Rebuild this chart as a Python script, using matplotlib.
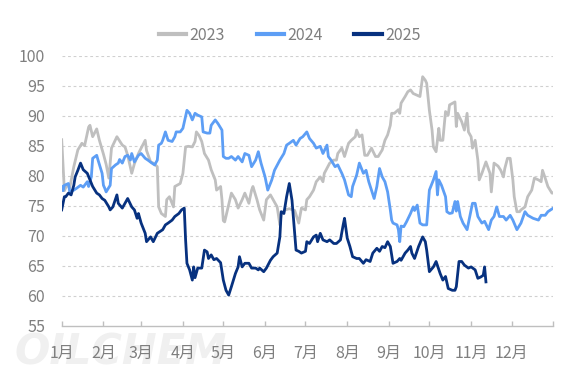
import matplotlib
matplotlib.use("Agg")
import matplotlib.pyplot as plt

# day-of-year (0 = Jan 1) and values
days_2023 = [0, 2, 4, 6, 9, 12, 15, 17, 20, 21, 23, 26, 28, 31, 33, 35, 37, 41, 45, 47,
             49, 52, 54, 57, 59, 62, 63, 66, 68, 71, 72, 74, 77, 78, 80, 83, 84, 88, 90, 92,
             94, 97, 99, 100, 102, 104, 106, 109, 111, 114, 115, 118, 119, 120, 121, 126, 129, 131, 134, 136,
             139, 141, 142, 145, 147, 150, 152, 155, 157, 160, 162, 163, 166, 169, 173, 176, 178, 181, 182, 184,
             187, 189, 192, 194, 195, 199, 202, 204, 205, 208, 210, 213, 215, 218, 219, 221, 223, 225, 227, 230,
             233, 235, 238, 240, 242, 244, 245, 247, 250, 251, 252, 255, 257, 259, 261, 264, 266, 268, 270, 271,
             273, 275, 276, 278, 280, 281, 283, 285, 287, 288, 292, 293, 294, 297, 299, 301, 302, 304, 305, 307,
             309, 310, 312, 315, 318, 319, 321, 324, 326, 328, 329, 331, 333, 335, 336, 338, 340, 341, 344, 346,
             349, 351, 354, 356, 357, 359, 361, 364, 365]
vals_2023 = [86.0, 77.5, 78.5, 78.0, 81.5, 84.3, 85.4, 85.0, 88.1, 88.4, 86.5, 87.8, 85.9, 83.6, 81.9, 79.6, 84.6, 86.5, 85.1, 84.8,
             83.4, 80.4, 82.0, 83.7, 84.6, 85.9, 84.2, 82.3, 82.1, 81.5, 74.8, 73.7, 73.2, 76.0, 76.5, 74.8, 78.2, 78.7, 80.4, 84.8,
             84.9, 84.8, 85.7, 87.3, 86.7, 85.7, 83.7, 82.6, 81.0, 79.3, 77.6, 78.2, 76.0, 72.5, 72.3, 77.1, 76.0, 74.6, 76.0, 77.1,
             75.4, 77.6, 78.2, 76.0, 74.3, 72.6, 76.0, 76.8, 76.0, 74.8, 71.8, 73.7, 74.3, 74.5, 74.2, 72.1, 74.6, 74.3, 76.0, 76.5,
             77.6, 79.0, 79.8, 79.0, 80.4, 82.1, 82.6, 82.6, 83.7, 84.6, 83.2, 85.4, 85.9, 86.5, 87.6, 86.5, 86.8, 83.4, 83.4, 84.6,
             83.2, 83.2, 84.3, 85.9, 86.8, 88.4, 90.4, 90.4, 91.0, 90.4, 92.1, 93.2, 94.0, 94.3, 93.7, 93.4, 93.2, 96.5, 95.9, 95.4,
             90.9, 87.6, 84.8, 84.0, 87.9, 85.9, 85.9, 90.7, 90.1, 91.8, 92.3, 88.2, 90.4, 89.0, 87.6, 90.4, 87.3, 86.5, 84.6, 85.9,
             82.6, 79.3, 80.4, 82.3, 80.4, 77.3, 82.1, 81.6, 80.9, 79.8, 81.2, 82.9, 82.9, 79.3, 76.5, 74.0, 74.0, 74.3, 74.8, 76.5,
             77.6, 79.6, 79.3, 79.0, 80.9, 79.6, 78.2, 77.1, 77.1]

days_2024 = [0, 1, 2, 5, 6, 9, 11, 14, 16, 19, 20, 22, 23, 26, 27, 30, 31, 32, 33, 36,
             37, 40, 42, 43, 45, 47, 49, 51, 52, 54, 57, 59, 62, 64, 67, 69, 71, 72, 74, 75,
             77, 79, 82, 84, 85, 88, 90, 93, 95, 97, 99, 101, 104, 105, 108, 110, 111, 114, 116, 119,
             120, 122, 124, 126, 129, 131, 134, 136, 139, 141, 144, 146, 148, 151, 153, 156, 158, 162, 165, 167,
             169, 172, 174, 177, 179, 182, 184, 187, 189, 192, 194, 197, 198, 200, 203, 205, 208, 210, 213, 215,
             216, 219, 221, 224, 226, 228, 230, 232, 234, 236, 238, 240, 242, 244, 245, 246, 249, 250, 251, 252,
             254, 256, 259, 261, 262, 264, 266, 268, 271, 273, 276, 278, 279, 280, 282, 285, 286, 288, 290, 292,
             293, 294, 296, 298, 301, 303, 305, 307, 309, 312, 314, 317, 319, 321, 323, 325, 328, 330, 333, 335,
             338, 341, 344, 346, 350, 354, 356, 359, 361, 365]
vals_2024 = [78.2, 77.5, 78.4, 78.7, 77.3, 77.6, 77.9, 78.4, 78.1, 79.0, 78.2, 79.8, 82.9, 83.4, 82.6, 80.4, 78.4, 77.9, 77.3, 78.4,
             81.2, 81.8, 82.1, 82.7, 82.1, 83.2, 83.4, 82.6, 83.7, 82.3, 83.4, 83.7, 82.9, 82.6, 82.1, 81.8, 82.6, 85.1, 85.4, 85.9,
             87.3, 85.9, 85.7, 86.5, 87.3, 87.3, 87.9, 90.9, 90.4, 89.3, 90.4, 90.1, 89.8, 87.3, 87.1, 87.1, 88.4, 89.3, 88.7, 87.6,
             83.2, 82.9, 82.9, 83.2, 82.6, 83.2, 82.3, 83.7, 83.4, 81.5, 82.6, 84.0, 82.1, 79.8, 77.6, 79.3, 80.9, 82.6, 83.7, 85.1,
             85.4, 85.9, 85.1, 86.2, 86.5, 87.3, 86.2, 85.4, 84.6, 84.9, 83.7, 85.1, 83.2, 82.6, 81.5, 81.8, 80.4, 79.3, 76.8, 76.5,
             78.2, 80.1, 82.1, 80.4, 80.9, 79.0, 77.6, 76.2, 78.2, 81.2, 79.8, 79.0, 77.3, 74.3, 72.6, 72.1, 71.8, 71.0, 69.0, 71.6,
             71.5, 72.3, 73.7, 74.8, 74.2, 75.1, 72.1, 71.8, 71.8, 77.6, 79.3, 80.7, 76.8, 79.3, 78.4, 76.5, 74.0, 73.7, 73.8, 75.7,
             74.1, 75.7, 73.2, 72.1, 71.0, 73.2, 75.4, 75.4, 73.2, 72.1, 72.4, 71.0, 72.6, 73.2, 74.8, 73.2, 73.2, 72.6, 73.4, 72.6,
             71.0, 72.1, 74.0, 73.4, 72.9, 72.6, 73.4, 73.4, 74.0, 74.6]

days_2025 = [0, 2, 3, 5, 7, 9, 10, 12, 14, 16, 19, 21, 23, 26, 28, 30, 32, 35, 36, 38,
             41, 42, 45, 47, 49, 52, 54, 56, 57, 59, 62, 63, 66, 68, 71, 73, 75, 77, 79, 82,
             84, 87, 89, 91, 92, 93, 95, 97, 98, 99, 101, 104, 106, 108, 109, 111, 113, 115, 118, 120,
             122, 124, 126, 129, 131, 132, 134, 136, 139, 141, 144, 146, 147, 150, 152, 155, 157, 160, 162, 163,
             165, 167, 169, 171, 172, 174, 176, 178, 181, 182, 184, 187, 189, 190, 192, 194, 197, 199, 202, 204,
             207, 209, 210, 212, 214, 216, 219, 221, 224, 226, 229, 231, 234, 236, 238, 240, 242, 244, 246, 249,
             251, 252, 255, 257, 259, 260, 262, 265, 268, 270, 271, 273, 276, 278, 281, 283, 285, 287, 290, 292,
             293, 295, 297, 299, 302, 304, 307, 309, 311, 313, 314, 315]
vals_2025 = [74.3, 76.5, 76.5, 77.1, 76.8, 78.4, 79.8, 80.9, 82.1, 81.0, 80.4, 79.3, 78.2, 77.1, 76.8, 76.2, 75.9, 74.8, 74.3, 74.8,
             76.8, 75.4, 74.6, 75.4, 76.2, 74.8, 74.3, 72.9, 73.7, 72.1, 70.4, 69.0, 69.8, 69.0, 70.4, 70.7, 71.0, 71.8, 72.1, 72.6,
             73.2, 73.7, 74.3, 74.6, 69.3, 65.4, 64.3, 62.6, 64.8, 63.0, 64.6, 64.6, 67.6, 67.3, 66.2, 66.8, 66.0, 66.2, 65.5, 62.6,
             60.9, 60.1, 61.5, 63.7, 64.8, 66.5, 64.8, 65.4, 65.4, 64.6, 64.6, 64.3, 64.6, 64.0, 64.6, 65.9, 66.5, 67.1, 69.8, 74.0,
             73.7, 76.5, 78.7, 75.9, 73.2, 67.6, 67.4, 67.1, 67.4, 69.0, 68.7, 69.8, 70.1, 69.0, 70.4, 69.3, 69.0, 69.3, 68.7, 68.7,
             69.3, 71.8, 72.9, 69.6, 68.2, 66.5, 66.2, 66.2, 65.4, 66.0, 65.7, 67.1, 67.9, 67.4, 68.2, 68.0, 69.0, 68.2, 65.4, 65.7,
             66.2, 65.9, 67.1, 67.6, 68.2, 67.1, 66.2, 68.2, 69.8, 69.0, 67.6, 64.0, 64.8, 65.7, 63.7, 62.6, 63.2, 61.2, 60.9, 60.9,
             61.5, 65.7, 65.7, 65.1, 64.6, 64.8, 64.3, 62.9, 63.1, 63.4, 64.8, 62.3]

month_starts = [0, 31, 59, 90, 120, 151, 181, 212, 243, 273, 304, 334, 365]
month_labels = ["1月", "2月", "3月", "4月", "5月", "6月", "7月", "8月", "9月", "10月", "11月", "12月", ""]

series = [
    ("2023", days_2023, vals_2023, "#bfbfbf"),
    ("2024", days_2024, vals_2024, "#5d9ef5"),
    ("2025", days_2025, vals_2025, "#07317f"),
]

plt.rcParams["font.family"] = ["Noto Sans CJK SC", "DejaVu Sans"]
text_color = "#7f7f7f"
fs = 11.5

fig = plt.figure(figsize=(5.67, 3.78), dpi=100)
ax = fig.add_axes([0.1088, 0.1384, 0.867, 0.7142])

# faint logo watermark, drawn underneath the axes and its month labels
fig.text(0.025, 0.068, "OILCHEM", fontsize=30, fontweight="bold", fontstyle="italic",
         family="DejaVu Sans", color="#f0f0f0", va="center", ha="left", zorder=-1)

for label, d, v, c in series:
    ax.plot(d, v, color=c, lw=2.0, label=label, solid_joinstyle="round")

ax.set_xlim(0, 365)
ax.set_ylim(55, 100)
ax.set_yticks(range(55, 101, 5))
ax.set_xticks(month_starts)
ax.set_xticklabels(month_labels)

for y in range(60, 101, 5):
    ax.axhline(y, color="#d0d0d0", lw=0.8, ls=(0, (2.5, 2.5)), zorder=0)

for s in ["top", "right", "left"]:
    ax.spines[s].set_visible(False)
ax.spines["bottom"].set_color("#bfbfbf")
ax.spines["bottom"].set_linewidth(1.0)
ax.tick_params(axis="y", length=0, pad=12, labelsize=fs, labelcolor=text_color)
ax.tick_params(axis="x", direction="in", length=3.5, width=1.0, color="#bfbfbf",
               pad=14, labelsize=fs, labelcolor=text_color)
ax.patch.set_alpha(0)

leg = fig.legend(loc="center", bbox_to_anchor=(0.511, 0.907), ncol=3, frameon=False,
                 fontsize=fs, handlelength=1.7, handletextpad=0.2, columnspacing=2.0,
                 labelcolor=text_color)
for h in leg.legend_handles:
    h.set_linewidth(3)

fig.savefig("out.png", dpi=100)
